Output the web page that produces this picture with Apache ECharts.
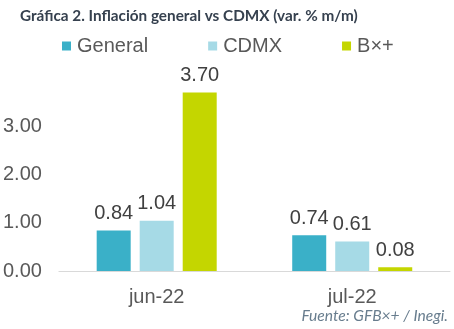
<!DOCTYPE html>
<html><head><meta charset="utf-8">
<script src="https://cdn.jsdelivr.net/npm/echarts@6/dist/echarts.min.js"></script>
<style>html,body{margin:0;padding:0;background:#fff}#c{width:454px;height:329px}</style>
</head><body><div id="c"></div>
<script>
const categories = ['jun-22', 'jul-22'];
const seriesNames = ['General', 'CDMX', 'B×+'];
const generalValues = [0.84, 0.74];
const cdmxValues = [1.04, 0.61];
const bxValues = [3.70, 0.08];
const colors = ['#3AB0C8', '#A6DAE6', '#C4D600'];
const titleText = 'Gráfica 2. Inflación general vs CDMX (var. % m/m)';
const sourceText = 'Fuente: GFB×+ / Inegi.';

const chart = echarts.init(document.getElementById('c'), null, {renderer: 'canvas'});
const labelStyle = {show: true, position: 'top', distance: 7, color: '#404040', fontSize: 20, fontFamily: 'Liberation Sans', formatter: p => p.value.toFixed(2)};
const allValues = [generalValues, cdmxValues, bxValues];
chart.setOption({
  animation: false,
  title: [
    {text: titleText, left: 15, top: 4, padding: 5, textStyle: {fontFamily: 'Lato', fontWeight: 'bold', fontSize: 15.3, color: '#36414F'}},
    {text: sourceText, right: 1, top: 303, textStyle: {fontFamily: 'Lato', fontStyle: 'italic', fontWeight: 'normal', fontSize: 15.6, color: '#687D8E'}}
  ],
  legend: {
    left: 57, top: 31, itemWidth: 9, itemHeight: 9, itemGap: 60, icon: 'rect',
    textStyle: {fontFamily: 'Liberation Sans', fontSize: 20, color: '#595959', padding: [0,0,0,1]},
    data: seriesNames
  },
  grid: {left: 58, right: 4, top: 78, bottom: 58, containLabel: false},
  xAxis: {
    type: 'category', data: categories,
    axisLine: {lineStyle: {color: '#D9D9D9', width: 1}},
    axisTick: {show: false},
    axisLabel: {fontFamily: 'Liberation Sans', fontSize: 20, color: '#595959', margin: 16}
  },
  yAxis: {
    type: 'value', min: 0, max: 4, interval: 1,
    splitLine: {show: false},
    axisLine: {show: false}, axisTick: {show: false},
    axisLabel: {fontFamily: 'Liberation Sans', fontSize: 20, color: '#595959', margin: 17, showMaxLabel: false, formatter: v => v.toFixed(2)}
  },
  series: seriesNames.map((n, i) => ({
    name: n, type: 'bar', data: allValues[i], barWidth: 34, barGap: '26.5%',
    itemStyle: {color: colors[i]}, label: labelStyle
  }))
});
</script></body></html>
